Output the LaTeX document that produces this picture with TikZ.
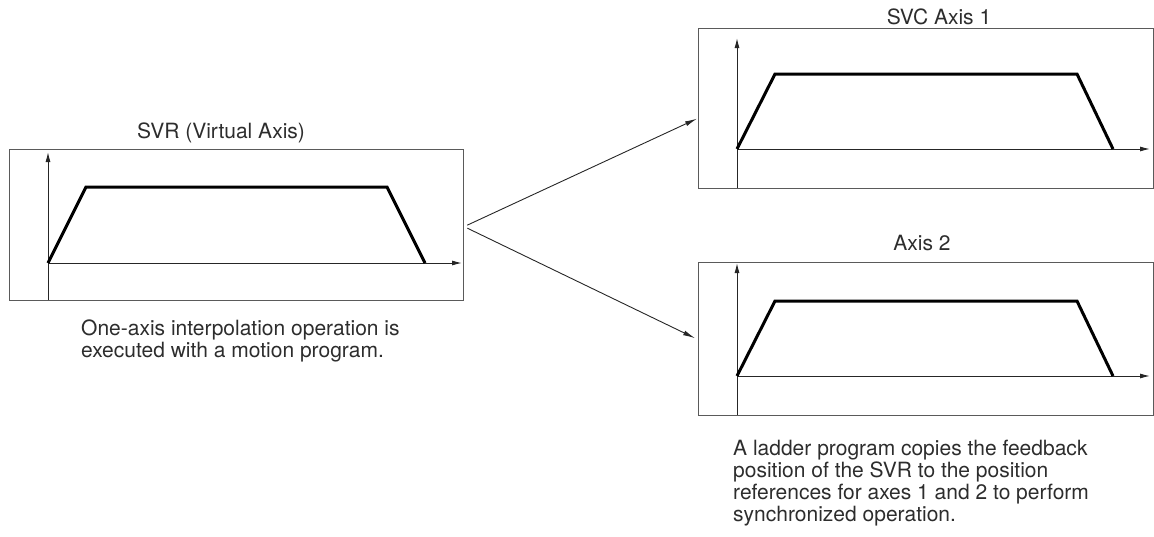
\documentclass[tikz,border=0pt]{standalone}
\usepackage{fontspec}
\setmainfont{TeX Gyre Heros}
\usetikzlibrary{arrows.meta}
\definecolor{txt}{RGB}{45,45,45}
\definecolor{frame}{RGB}{90,90,90}
\tikzset{
  panel/.style={draw=frame, line width=1.3pt, inner sep=0pt, anchor=north west},
  axis/.style={draw=black!85, line width=1pt, -{Latex[length=10pt,width=5pt]}},
  profile/.style={draw=black, line width=3pt, line join=miter},
  conn/.style={draw=black!85, line width=0.9pt, -{Latex[length=12pt,width=5pt]}},
  caption/.style={font=\fontsize{21}{22}\selectfont, text=txt, inner sep=0pt},
}
\begin{document}
\begin{tikzpicture}[x=1pt,y=-1pt]
\useasboundingbox (0,0) rectangle (1154,536);

% panels
\node[panel, minimum width=454pt, minimum height=151pt] (svr) at (9,149) {};
\node[panel, minimum width=455pt, minimum height=160pt] (ax1) at (698,28) {};
\node[panel, minimum width=455pt, minimum height=153pt] (ax2) at (698,262) {};

% titles
\node[caption, anchor=base] (tsvr) at (221,138) {SVR (Virtual Axis)};
\node[caption, anchor=base] (tax1) at (939,24) {SVC Axis 1};
\node[caption, anchor=base] (tax2) at (922,250) {Axis 2};

% virtual axis profile
\draw[axis] (48,300) -- (48,152);
\draw[axis] (48,263) -- (462,263);
\draw[profile] (48,263) -- (86,187) -- (387,187) -- (425,263);

% axis 1 profile
\draw[axis] (737,188) -- (737,38);
\draw[axis] (737,149) -- (1150,149);
\draw[profile] (737,149) -- (775,74) -- (1077,74) -- (1113,149);

% axis 2 profile
\draw[axis] (737,415) -- (737,263);
\draw[axis] (737,376) -- (1150,376);
\draw[profile] (737,376) -- (775,301) -- (1077,301) -- (1113,376);

% distribution to the slave axes
\draw[conn] ([xshift=3pt]svr.east) -- ([xshift=-1pt,yshift=-10pt]ax1.west);
\draw[conn] ([xshift=3pt,yshift=-3pt]svr.east) -- ([xshift=-3pt,yshift=1pt]ax2.west);

% notes (multi-line nodes sit on the baseline of their last line)
\node[caption, anchor=base west, align=left] (nleft) at (81,357)
  {One-axis interpolation operation is\\executed with a motion program.};
\node[caption, anchor=base west, align=left] (nright) at (733,521)
  {A ladder program copies the feedback\\position of the SVR to the position\\references for axes 1 and 2 to perform\\synchronized operation.};
\end{tikzpicture}
\end{document}
